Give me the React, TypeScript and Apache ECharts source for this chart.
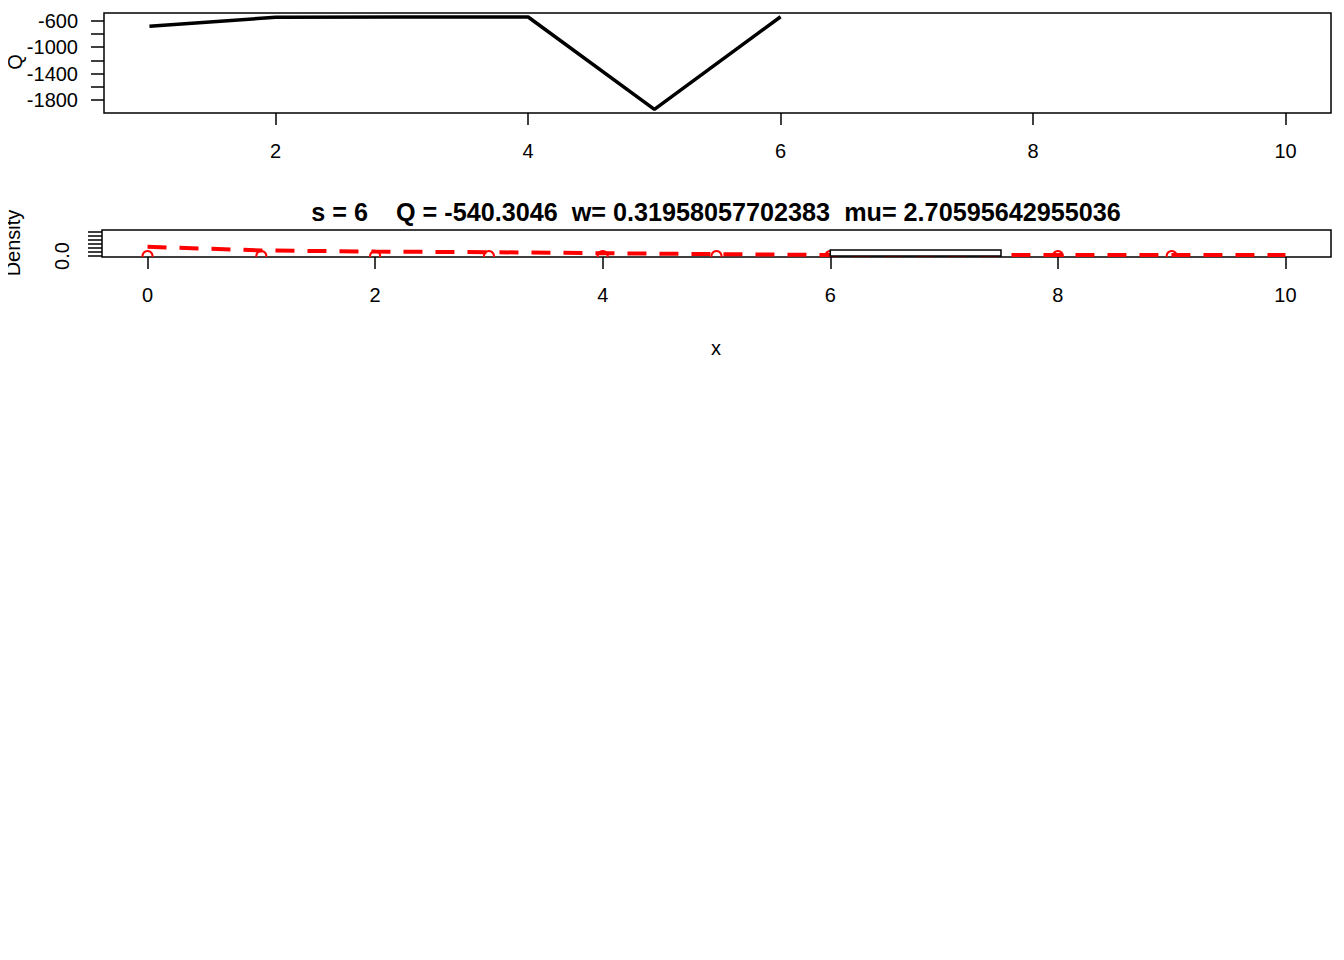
import React, { useEffect, useRef } from "react";
import * as echarts from "echarts";

// Top panel: Q by s
const sValues = [1, 2, 3, 4, 5, 6];
const qValues = [-685, -548, -545, -545, -1940, -540.3046];
const topXTicks = [2, 4, 6, 8, 10];
const topYTicks = [-1800, -1600, -1400, -1200, -1000, -800, -600];
const topYLabels = [-1800, -1400, -1000, -600];

// Bottom panel: histogram + density
const histStart = [6];
const histEnd = [7.5];
const histDensity = [0.15];
const densX = [0, 1, 2, 3, 4, 5, 6, 7, 8, 9, 10];
const densY = [0.23, 0.14, 0.11, 0.095, 0.07, 0.048, 0.025, 0.025, 0.025, 0.025, 0.025];
const obsX = [0, 1, 2, 3, 4, 5, 6, 8, 9];
const botXTicks = [0, 2, 4, 6, 8, 10];
const botYTicks = [0, 0.1, 0.2, 0.3, 0.4, 0.5, 0.6];
const botYLabels = [0];

const titleText =
  "s = 6    Q = -540.3046  w= 0.31958057702383  mu= 2.70595642955036";

const FONT = "'Liberation Sans', Arial, Helvetica, sans-serif";
const FS = 20;

export default function App() {
  const ref = useRef<HTMLDivElement>(null);
  useEffect(() => {
    if (!ref.current) return;
    const chart = echarts.init(ref.current, null, { renderer: "svg" });
    const axisTextStyle = { color: "#000", fontFamily: FONT, fontSize: FS };
    const tickStyle = { color: "#000", width: 1.5 };
    const option: any = {
      animation: false,
      backgroundColor: "#fff",
      grid: [
        {
          left: 104,
          top: 13,
          width: 1227,
          height: 100,
          show: true,
          borderColor: "#000",
          borderWidth: 1.5,
          backgroundColor: "transparent",
        },
        {
          left: 102,
          top: 230,
          width: 1229,
          height: 27,
          show: true,
          borderColor: "#000",
          borderWidth: 1.5,
          backgroundColor: "transparent",
        },
      ],
      xAxis: [
        {
          type: "value",
          gridIndex: 0,
          min: 0.64,
          max: 10.36,
          splitLine: { show: false },
          axisLine: { show: false, onZero: false },
          axisTick: { show: true, length: 12, lineStyle: tickStyle, customValues: topXTicks },
          axisLabel: { ...axisTextStyle, margin: 28, customValues: topXTicks },
        },
        {
          type: "value",
          gridIndex: 1,
          min: -0.4,
          max: 10.4,
          splitLine: { show: false },
          axisLine: { show: false, onZero: false },
          axisTick: { show: true, length: 12, lineStyle: tickStyle, customValues: botXTicks },
          axisLabel: { ...axisTextStyle, margin: 28, customValues: botXTicks },
        },
      ],
      yAxis: [
        {
          type: "value",
          gridIndex: 0,
          min: -1996,
          max: -484,
          splitLine: { show: false },
          axisLine: { show: false, onZero: false },
          axisTick: { show: true, length: 13, lineStyle: tickStyle, customValues: topYTicks },
          axisLabel: {
            ...axisTextStyle,
            margin: 26,
            customValues: topYLabels,
            formatter: (v: number) => String(v),
          },
        },
        {
          type: "value",
          gridIndex: 1,
          min: -0.025,
          max: 0.65,
          splitLine: { show: false },
          axisLine: { show: false, onZero: false },
          axisTick: { show: true, length: 14, lineStyle: tickStyle, customValues: botYTicks },
          axisLabel: {
            ...axisTextStyle,
            margin: 30,
            rotate: 90,
            customValues: botYLabels,
            formatter: (v: number) => v.toFixed(1),
          },
        },
      ],
      series: [
        {
          type: "line",
          xAxisIndex: 0,
          yAxisIndex: 0,
          data: sValues.map((s, i) => [s, qValues[i]]),
          showSymbol: false,
          clip: true,
          lineStyle: { color: "#000", width: 3.5 },
          z: 2,
        },
        {
          type: "line",
          xAxisIndex: 1,
          yAxisIndex: 1,
          data: densX.map((x, i) => [x, densY[i]]),
          showSymbol: false,
          clip: true,
          lineStyle: { color: "#ff0000", width: 4, type: [19, 13] },
          z: 2,
        },
        {
          type: "custom",
          xAxisIndex: 1,
          yAxisIndex: 1,
          data: obsX.map((x) => [x, 0]),
          encode: { x: 0, y: 1 },
          clip: true,
          renderItem: (params: any, api: any) => {
            const p = api.coord([api.value(0), api.value(1)]);
            return {
              type: "circle",
              shape: { cx: p[0], cy: p[1], r: 5 },
              style: { fill: "none", stroke: "#ff0000", lineWidth: 2 },
            };
          },
          z: 3,
        },
        {
          type: "custom",
          xAxisIndex: 1,
          yAxisIndex: 1,
          data: histStart.map((s, i) => [s, histEnd[i], histDensity[i]]),
          encode: { x: [0, 1], y: 2 },
          clip: true,
          renderItem: (params: any, api: any) => {
            const p0 = api.coord([api.value(0), api.value(2)]);
            const p1 = api.coord([api.value(1), 0]);
            return {
              type: "rect",
              shape: { x: p0[0], y: p0[1], width: p1[0] - p0[0], height: p1[1] - p0[1] },
              style: { fill: "#fff", stroke: "#000", lineWidth: 1.5 },
            };
          },
          z: 4,
        },
      ],
      graphic: [
        {
          type: "text",
          x: 716,
          y: 212,
          style: {
            text: titleText,
            fontFamily: FONT,
            fontSize: 25.2,
            fontWeight: "bold",
            fill: "#000",
            align: "center",
            verticalAlign: "middle",
          },
        },
        {
          type: "text",
          x: 15,
          y: 62,
          rotation: Math.PI / 2,
          style: {
            text: "Q",
            fontFamily: FONT,
            fontSize: FS,
            fill: "#000",
            align: "center",
            verticalAlign: "middle",
          },
        },
        {
          type: "text",
          x: 13,
          y: 243,
          rotation: Math.PI / 2,
          style: {
            text: "Density",
            fontFamily: FONT,
            fontSize: FS,
            fill: "#000",
            align: "center",
            verticalAlign: "middle",
          },
        },
        {
          type: "text",
          x: 716,
          y: 348,
          style: {
            text: "x",
            fontFamily: FONT,
            fontSize: FS,
            fill: "#000",
            align: "center",
            verticalAlign: "middle",
          },
        },
      ],
    };
    chart.setOption(option);
    return () => chart.dispose();
  }, []);
  return <div ref={ref} style={{ width: 1344, height: 960, margin: -8 }} />;
}
